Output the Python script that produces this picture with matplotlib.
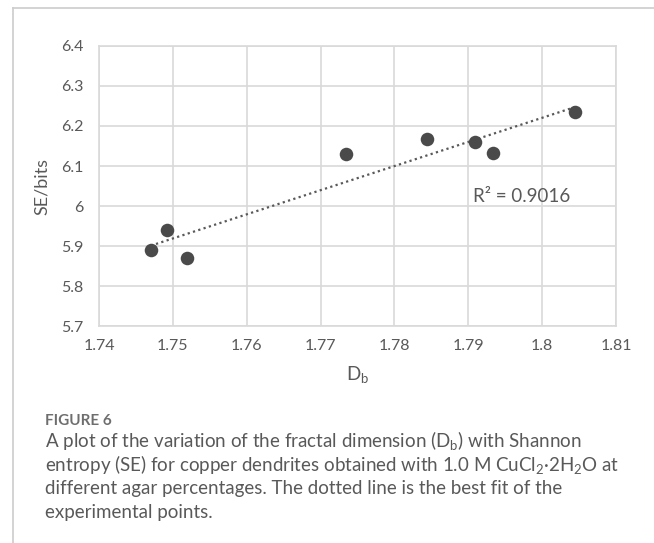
import numpy as np
import matplotlib
matplotlib.use('Agg')
import matplotlib.pyplot as plt
from matplotlib.lines import Line2D

# data
db = [1.7470, 1.7492, 1.7519, 1.7734, 1.7844, 1.7909, 1.7934, 1.8044]
se = [5.890, 5.940, 5.869, 6.131, 6.168, 6.159, 6.132, 6.236]
x_ticks = [1.74, 1.75, 1.76, 1.77, 1.78, 1.79, 1.80, 1.81]
x_tick_labels = ['1.74', '1.75', '1.76', '1.77', '1.78', '1.79', '1.8', '1.81']
y_ticks = [5.7, 5.8, 5.9, 6.0, 6.1, 6.2, 6.3, 6.4]
y_tick_labels = ['5.7', '5.8', '5.9', '6', '6.1', '6.2', '6.3', '6.4']

plt.rcParams['font.family'] = ['Lato', 'DejaVu Sans']
plt.rcParams['mathtext.default'] = 'regular'

fig = plt.figure(figsize=(6.54, 5.43), dpi=100)
ax = fig.add_axes([0.1514, 0.3996, 0.7905, 0.5157])

# linear fit (trendline)
coef = np.polyfit(db, se, 1)
xf = np.array([min(db), max(db)])
ax.plot(xf, np.polyval(coef, xf), linestyle=(0, (1, 1.5)), color='#595959', lw=1.6, zorder=2)
ax.scatter(db, se, s=95, color='#4a4a4a', zorder=3, linewidths=0)

ax.set_xlim(1.74, 1.81)
ax.set_ylim(5.7, 6.4)
ax.set_xticks(x_ticks)
ax.set_xticklabels(x_tick_labels)
ax.set_yticks(y_ticks)
ax.set_yticklabels(y_tick_labels)
ax.tick_params(length=0, labelsize=11.5, labelcolor='#595959')
ax.tick_params(axis='x', pad=9)
ax.tick_params(axis='y', pad=11)
ax.grid(True, color='#d9d9d9', lw=1.2)
ax.set_axisbelow(True)
for s in ax.spines.values():
    s.set_color('#d9d9d9')
    s.set_linewidth(1.2)

ax.set_ylabel('SE/bits', fontsize=13, color='#595959', labelpad=8)
ax.set_xlabel('D$_b$', fontsize=13.5, color='#595959', labelpad=8)
ax.text(1.7907, 6.023, 'R² = 0.9016', fontsize=13.5, color='#595959', va='center', ha='left')

# frame lines of the figure panel
fig.add_artist(Line2D([13 / 654, 13 / 654], [0, 1 - 7.5 / 543], color='#cccccc', lw=1.2))
fig.add_artist(Line2D([13 / 654, 1], [1 - 7.5 / 543, 1 - 7.5 / 543], color='#cccccc', lw=1.2))

# caption
fig.text(45 / 654, 1 - 421 / 543, 'FIGURE 6', fontsize=11, fontweight='bold',
         color='#6e6e6e', va='center', ha='left')
caption = [
    'A plot of the variation of the fractal dimension (D$_b$) with Shannon',
    'entropy (SE) for copper dendrites obtained with 1.0 M CuCl$_2$·2H$_2$O at',
    'different agar percentages. The dotted line is the best fit of the',
    'experimental points.',
]
for i, line in enumerate(caption):
    fig.text(45 / 654, 1 - (441 + 23.7 * i) / 543, line, fontsize=13.5, color='#595959',
             va='center', ha='left')

fig.savefig('out.png', dpi=100)
